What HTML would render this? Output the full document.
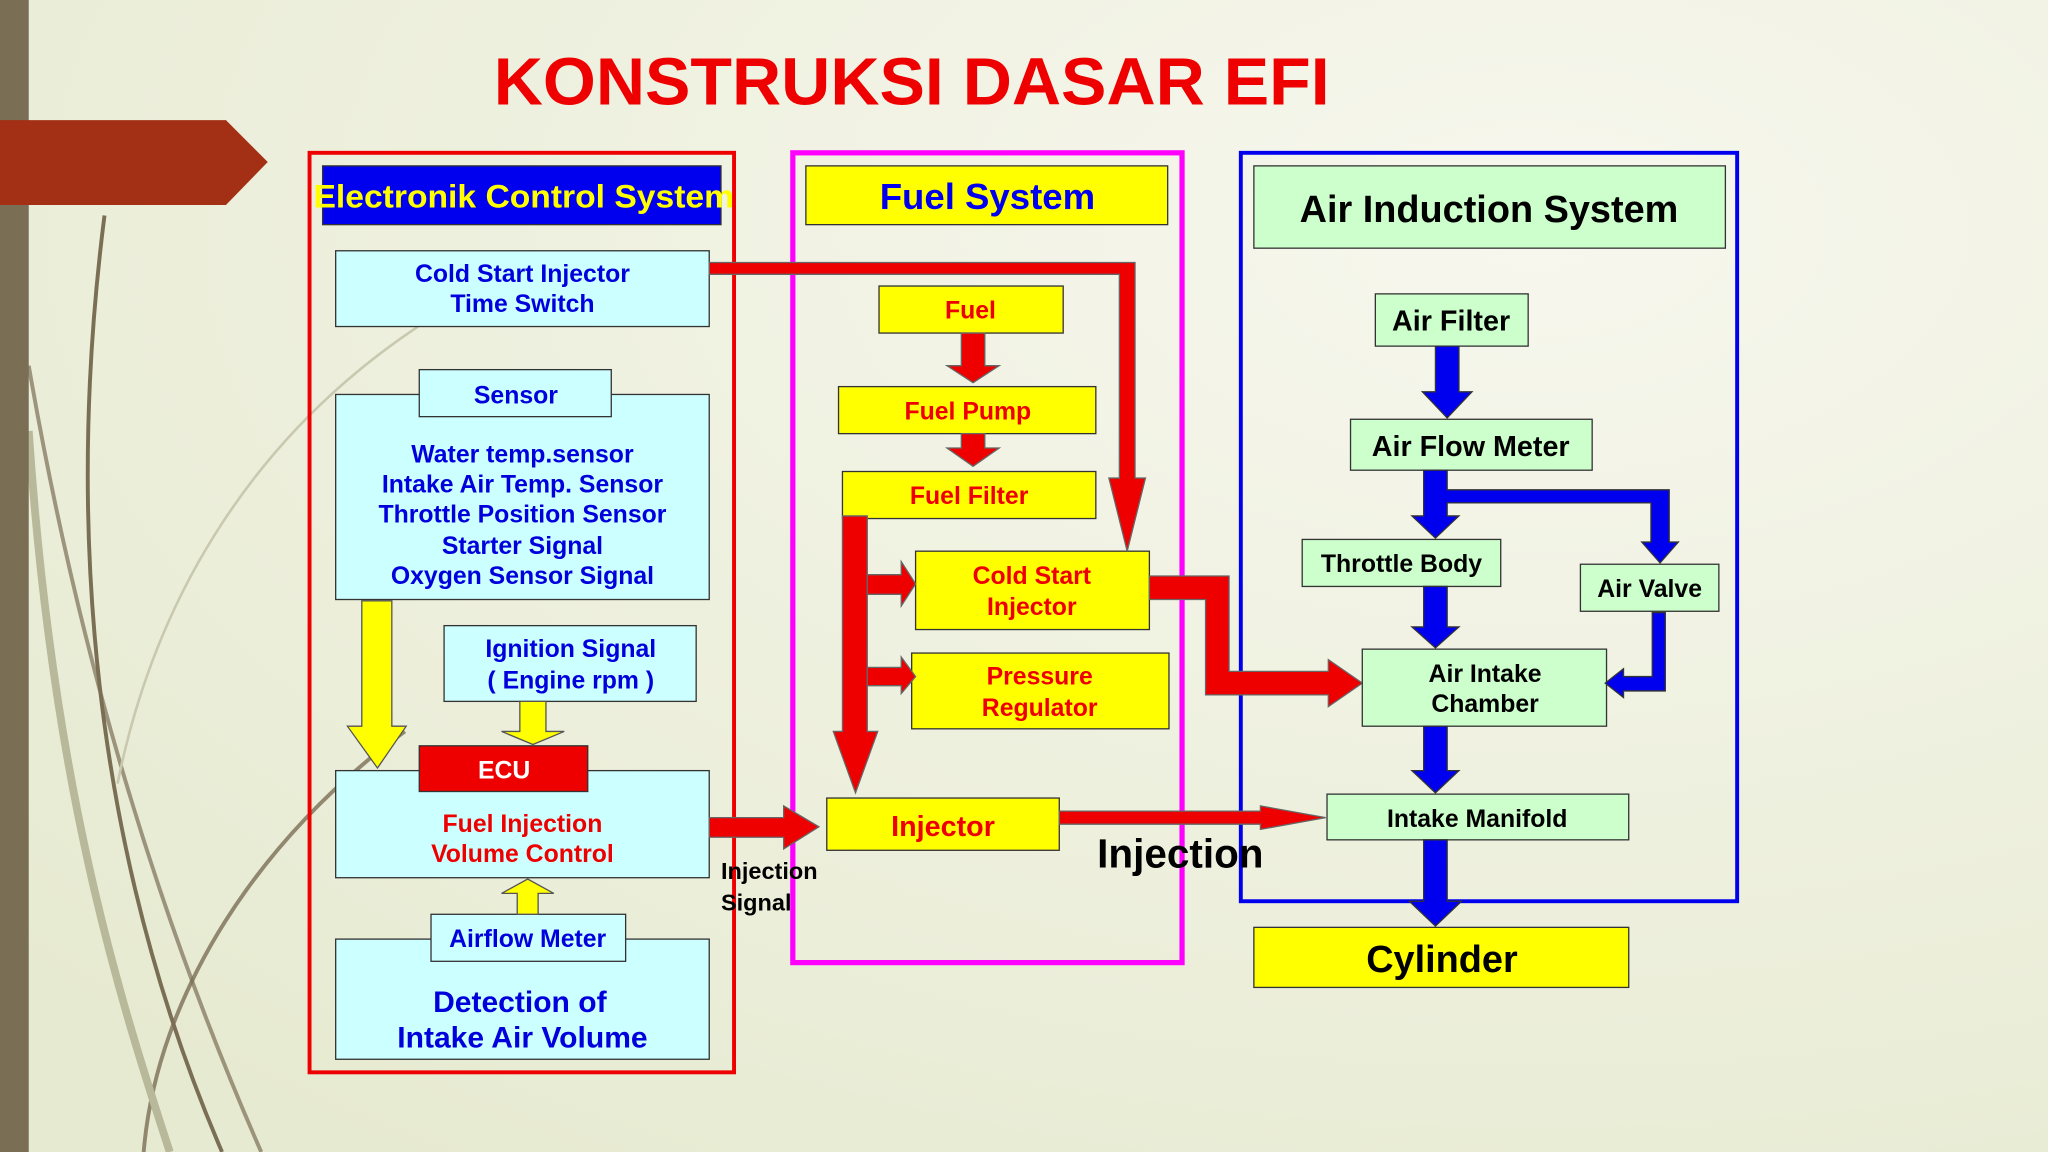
<!DOCTYPE html>
<html><head><meta charset="utf-8"><style>
html,body{margin:0;padding:0;width:2048px;height:1152px;overflow:hidden}
svg{display:block}
text{font-family:"Liberation Sans",sans-serif;font-weight:bold}
</style></head><body>
<svg width="2048" height="1152" viewBox="0 0 1568 882" xmlns="http://www.w3.org/2000/svg">
<defs>
<radialGradient id="bg" cx="0.75" cy="0.2" r="1">
<stop offset="0" stop-color="#f7f7ee"/><stop offset="1" stop-color="#e6ead0"/>
</radialGradient>
</defs>
<rect width="1568" height="882" fill="url(#bg)"/>
<g fill="none" stroke="#7a6e55" stroke-width="3">
<path d="M80 165 C50 400 70 650 170 882"/>
<path d="M22 280 C60 500 120 700 200 882" stroke-opacity="0.7"/>
<path d="M310 560 C200 640 120 760 110 882" stroke-opacity="0.8"/>
<path d="M22 330 C40 600 90 760 130 882" stroke="#b8b89a" stroke-width="6"/>
<path d="M320 250 C200 330 120 450 90 600" stroke="#c9c9b0" stroke-width="2"/>
</g>
<rect x="0" y="0" width="22" height="882" fill="#7a6e55"/>
<polygon points="0,92 173,92 205,124 173,157 0,157" fill="#a33015"/>
<text x="378" y="80" font-size="51" fill="#ee0000" textLength="640" lengthAdjust="spacingAndGlyphs">KONSTRUKSI DASAR EFI</text>

<rect x="237" y="117" width="325" height="704" fill="none" stroke="#ee0000" stroke-width="3"/>
<rect x="607" y="117" width="298" height="620" fill="none" stroke="#ff00ff" stroke-width="4"/>
<rect x="950" y="117" width="380" height="573" fill="none" stroke="#0000ee" stroke-width="3"/>

<rect x="247" y="127" width="305" height="45" fill="#0000ee" stroke="#333" stroke-width="1"/>
<text x="240" y="159" font-size="25" fill="#ffff00" textLength="322" lengthAdjust="spacingAndGlyphs">Electronik Control System</text>
<g stroke="#333" stroke-width="1" fill="#ccffff">
<rect x="257" y="192" width="286" height="58"/>
<rect x="257" y="302" width="286" height="157"/>
<rect x="321" y="283" width="147" height="36"/>
<rect x="340" y="479" width="193" height="58"/>
<rect x="257" y="590" width="286" height="82"/>
<rect x="257" y="719" width="286" height="92"/>
<rect x="330" y="700" width="149" height="36"/>
</g>
<rect x="321" y="571" width="129" height="35" fill="#ee0000" stroke="#333"/>
<g font-size="19" fill="#0000dd" text-anchor="middle">
<text x="400" y="216">Cold Start Injector</text>
<text x="400" y="239">Time Switch</text>
<text x="395" y="309">Sensor</text>
<text x="400" y="354">Water temp.sensor</text>
<text x="400" y="377">Intake Air Temp. Sensor</text>
<text x="400" y="400">Throttle Position Sensor</text>
<text x="400" y="424">Starter Signal</text>
<text x="400" y="447">Oxygen Sensor Signal</text>
<text x="437" y="503">Ignition Signal</text>
<text x="437" y="527">( Engine  rpm )</text>
<text x="404" y="725">Airflow Meter</text>
<text x="398" y="775" font-size="23">Detection of</text>
<text x="400" y="802" font-size="23">Intake Air Volume</text>
</g>
<text x="386" y="596" font-size="19" fill="#fff" text-anchor="middle">ECU</text>
<text x="400" y="637" font-size="19" fill="#ee0000" text-anchor="middle">Fuel Injection</text>
<text x="400" y="660" font-size="19" fill="#ee0000" text-anchor="middle">Volume Control</text>
<g fill="#ffff00" stroke="#555" stroke-width="1">
<polygon points="277,460 300,460 300,556 311,556 289,588 266,556 277,556"/>
<polygon points="398,537 418,537 418,560 432,560 408,570 384,560 398,560"/>
<polygon points="396,700 412,700 412,684 424,684 404,673 384,684 396,684"/>
</g>

<rect x="617" y="127" width="277" height="45" fill="#ffff00" stroke="#333"/>
<text x="756" y="160" font-size="28" fill="#0000ee" text-anchor="middle">Fuel System</text>
<g fill="#ffff00" stroke="#333">
<rect x="673" y="219" width="141" height="36"/>
<rect x="642" y="296" width="197" height="36"/>
<rect x="645" y="361" width="194" height="36"/>
<rect x="701" y="422" width="179" height="60"/>
<rect x="698" y="500" width="197" height="58"/>
<rect x="633" y="611" width="178" height="40"/>
</g>
<g font-size="19" fill="#ee0000" text-anchor="middle">
<text x="743" y="244">Fuel</text>
<text x="741" y="321">Fuel Pump</text>
<text x="742" y="386">Fuel Filter</text>
<text x="790" y="447">Cold Start</text>
<text x="790" y="471">Injector</text>
<text x="796" y="524">Pressure</text>
<text x="796" y="548">Regulator</text>
<text x="722" y="640" font-size="22">Injector</text>
</g>
<g fill="#ee0000" stroke="#666" stroke-width="1">
<polygon points="543,201 869,201 869,366 877,366 863,422 849,366 857,366 857,210 543,210"/>
<polygon points="736,255 754,255 754,280 765,280 745,293 725,280 736,280"/>
<polygon points="736,332 754,332 754,343 765,343 745,357 725,343 736,343"/>
<polygon points="645,395 664,395 664,560 672,560 655,607 638,560 645,560"/>
<polygon points="664,440 690,440 690,430 701,447 690,464 690,455 664,455"/>
<polygon points="664,511 690,511 690,503 701,518 690,531 690,525 664,525"/>
<polygon points="543,626 600,626 600,617 627,633 600,650 600,641 543,641"/>
<polygon points="880,441 941,441 941,514 1017,514 1017,505 1043,523 1017,541 1017,532 923,532 923,459 880,459"/>
<polygon points="811,621 965,621 965,617 1015,626 965,635 965,631 811,631"/>
</g>
<g font-size="18" fill="#000">
<text x="552" y="673">Injection</text>
<text x="552" y="697">Signal</text>
</g>
<text x="840" y="664" font-size="31" fill="#000">Injection</text>

<g fill="#ccffcc" stroke="#333">
<rect x="960" y="127" width="361" height="63"/>
<rect x="1053" y="225" width="117" height="40"/>
<rect x="1034" y="321" width="185" height="39"/>
<rect x="997" y="413" width="152" height="36"/>
<rect x="1210" y="432" width="106" height="36"/>
<rect x="1043" y="497" width="187" height="59"/>
<rect x="1016" y="608" width="231" height="35"/>
</g>
<g fill="#000" text-anchor="middle">
<text x="1140" y="170" font-size="29">Air Induction System</text>
<text x="1111" y="253" font-size="22">Air Filter</text>
<text x="1126" y="349" font-size="22">Air Flow Meter</text>
<text x="1073" y="438" font-size="19">Throttle Body</text>
<text x="1263" y="457" font-size="19">Air Valve</text>
<text x="1137" y="522" font-size="19">Air Intake</text>
<text x="1137" y="545" font-size="19">Chamber</text>
<text x="1131" y="633" font-size="19">Intake Manifold</text>
</g>
<rect x="960" y="710" width="287" height="46" fill="#ffff00" stroke="#333"/>
<text x="1104" y="744" font-size="29" fill="#000" text-anchor="middle">Cylinder</text>
<g fill="#0000ee" stroke="#333" stroke-width="1">
<polygon points="1099,265 1117,265 1117,300 1127,300 1108,320 1089,300 1099,300"/>
<polygon points="1090,360 1108,360 1108,375 1278,375 1278,415 1285,415 1271,431 1257,415 1264,415 1264,385 1108,385 1108,395 1117,395 1099,412 1081,395 1090,395"/>
<polygon points="1090,449 1108,449 1108,480 1117,480 1099,496 1081,480 1090,480"/>
<polygon points="1265,469 1275,469 1275,529 1243,529 1243,534 1229,523 1243,512 1243,518 1265,518"/>
<polygon points="1090,556 1108,556 1108,590 1117,590 1099,607 1081,590 1090,590"/>
<polygon points="1090,643 1108,643 1108,690 1119,690 1099,709 1079,690 1090,690"/>
</g>
</svg>
</body></html>
